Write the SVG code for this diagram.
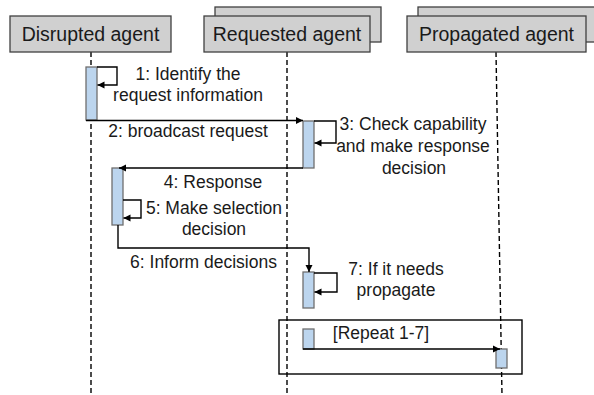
<svg xmlns="http://www.w3.org/2000/svg" width="594" height="395" viewBox="0 0 594 395">
<style>
.hdr{fill:#d0d0d0;stroke:#404040;stroke-width:1.3}
.ht{font-family:"Liberation Sans",Arial,sans-serif;font-size:19.5px;fill:#1a1a1a;text-anchor:middle}
.t{font-family:"Liberation Sans",Arial,sans-serif;font-size:17.5px;fill:#1a1a1a;text-anchor:middle}
.life{stroke:#000;stroke-width:1.4;stroke-dasharray:5,3;fill:none}
.act{fill:#bcd5ee;stroke:#6f6f6f;stroke-width:1.3}
.msg{stroke:#000;stroke-width:1.4;fill:none;marker-end:url(#ah)}
.frame{fill:none;stroke:#000;stroke-width:1.4}
</style>
<defs>
<marker id="ah" markerWidth="8" markerHeight="8" refX="7" refY="4" orient="auto" markerUnits="userSpaceOnUse">
<path d="M0,0.5 L7,4 L0,7.5 Z" fill="#000"/>
</marker>
</defs>
<rect width="594" height="395" fill="#fff"/>
<g id="lifelines">
<line class="life" x1="91" y1="52" x2="91" y2="395"/>
<line class="life" x1="287" y1="52" x2="287" y2="395"/>
<line class="life" x1="496" y1="52" x2="502" y2="395"/>
</g>
<g id="disrupted-agent">
<rect class="hdr" x="10" y="16" width="161" height="36"/>
<text class="ht" x="90.5" y="41">Disrupted agent</text>
</g>
<g id="requested-agent">
<rect class="hdr" x="215" y="7" width="166" height="35"/>
<rect class="hdr" x="204" y="16" width="166" height="36"/>
<text class="ht" x="287" y="41">Requested agent</text>
</g>
<g id="propagated-agent">
<rect class="hdr" x="418" y="7" width="190" height="35"/>
<rect class="hdr" x="407" y="16" width="179" height="36"/>
<text class="ht" x="496.5" y="41">Propagated agent</text>
</g>
<g id="activations">
<rect class="act" x="86" y="67" width="11" height="53"/>
<rect class="act" x="303" y="121" width="11" height="47"/>
<rect class="act" x="112" y="168" width="11" height="57"/>
<rect class="act" x="303" y="272" width="11" height="36"/>
<rect class="act" x="303" y="329" width="11" height="20"/>
<rect class="act" x="496" y="349" width="11" height="19"/>
</g>
<g id="frame">
<rect class="frame" x="279" y="320" width="243" height="54"/>
</g>
<g id="connectors">
<path class="msg" d="M97,67 H117 V85 H97.5"/>
<path class="msg" d="M86,120.5 H303"/>
<path class="msg" d="M314,121 H336 V143 H314.5"/>
<path class="msg" d="M303,168 H119"/>
<path class="msg" d="M123,200 H141 V218 H123.5"/>
<path class="msg" d="M118,225 V248 H309 V272"/>
<path class="msg" d="M314,273 H337 V292 H314.5"/>
<path class="msg" d="M303,349 H500"/>
</g>
<g id="labels">
<text class="t" x="188" y="80">1: Identify the</text>
<text class="t" x="188" y="101">request information</text>
<text class="t" x="188" y="137">2: broadcast request</text>
<text class="t" x="413" y="130">3: Check capability</text>
<text class="t" x="413" y="152">and make response</text>
<text class="t" x="414" y="174">decision</text>
<text class="t" x="213" y="188">4: Response</text>
<text class="t" x="214" y="214">5: Make selection</text>
<text class="t" x="214" y="235">decision</text>
<text class="t" x="203.5" y="268">6: Inform decisions</text>
<text class="t" x="396" y="275">7: If it needs</text>
<text class="t" x="396" y="296">propagate</text>
<text class="t" x="381" y="339">[Repeat 1-7]</text>
</g>
</svg>
